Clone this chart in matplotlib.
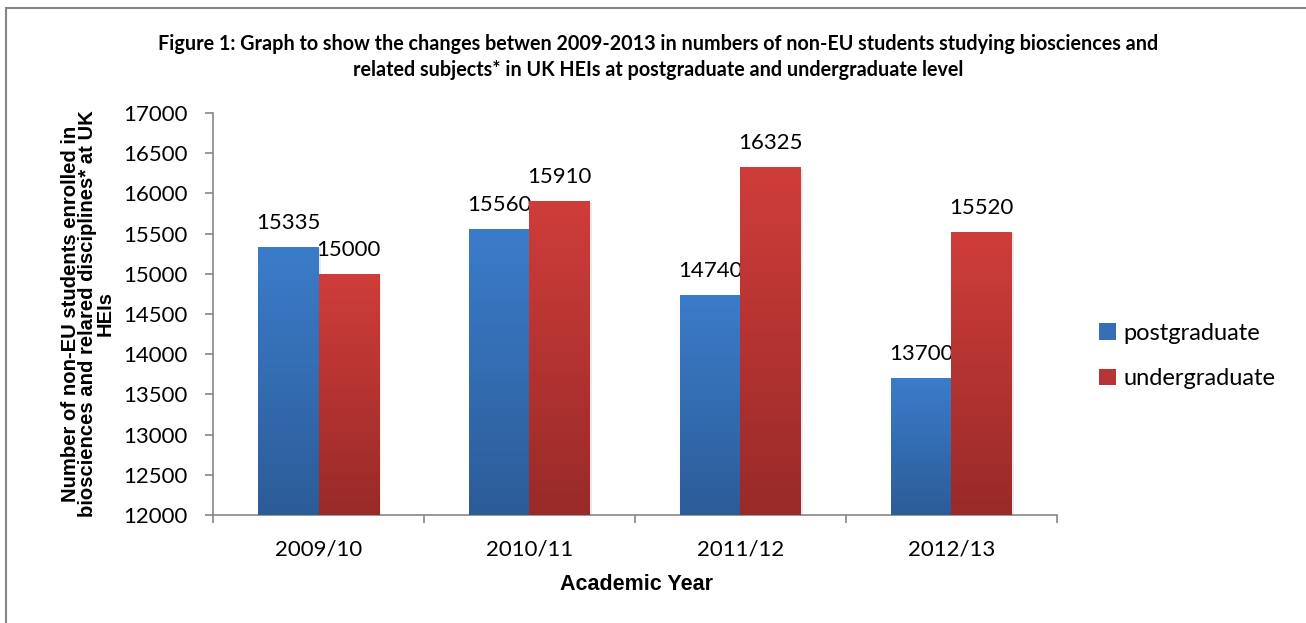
import numpy as np
import matplotlib.pyplot as plt
import matplotlib.patheffects as pe
from matplotlib.patches import Rectangle, Patch
from matplotlib.colors import LinearSegmentedColormap

# ---------------- Data ----------------
years = ["2009/10", "2010/11", "2011/12", "2012/13"]
postgraduate = [15335, 15560, 14740, 13700]
undergraduate = [15000, 15910, 16325, 15520]
series_names = ["postgraduate", "undergraduate"]
yticks = [12000, 12500, 13000, 13500, 14000, 14500, 15000, 15500, 16000, 16500, 17000]

title = ("Figure 1: Graph to show the changes betwen 2009-2013 in numbers of non-EU students studying biosciences and\n"
         "related subjects* in UK HEIs at postgraduate and undergraduate level")
ylabel = ("Number of non-EU students enrolled in\n"
          "biosciences and relared disciplines* at UK\n"
          "HEIs")

# ---------------- Style ----------------
body_font = ["Lato", "DejaVu Sans"]
axis_font = ["Liberation Sans", "DejaVu Sans"]
axis_grey = "#868686"
blue_grad = LinearSegmentedColormap.from_list("blue", ["#2c5c98", "#3b7cca"])
red_grad = LinearSegmentedColormap.from_list("red", ["#982a28", "#cf3d3a"])

fig = plt.figure(figsize=(13.06, 6.23), dpi=100)
ax = fig.add_axes([0.1631, 0.1734, 0.6462, 0.6452])

x = np.arange(len(years))
w = 0.285
ymin = yticks[0]

grad = np.linspace(0, 1, 256).reshape(-1, 1)
for vals, off, cmap in [(postgraduate, -w / 2, blue_grad), (undergraduate, w / 2, red_grad)]:
    bars = ax.bar(x + off, np.array(vals) - ymin, w, bottom=ymin, color=cmap(0.5), zorder=2)
    for b, v in zip(bars, vals):
        b.set_path_effects([pe.SimplePatchShadow(offset=(2, -1), shadow_rgbFace="#b0b0b0", alpha=0.25), pe.Normal()])
        x0 = b.get_x()
        im = ax.imshow(grad, cmap=cmap, origin="lower", aspect="auto",
                       extent=[x0, x0 + w, ymin, v], zorder=3)
        im.set_clip_path(b)
        ax.annotate(str(v), (x0 + w / 2, v), xytext=(0, 10), textcoords="offset points",
                    ha="center", va="bottom", fontsize=16, family=body_font)

ax.set_xlim(-0.5, len(years) - 0.5)
ax.set_ylim(yticks[0], yticks[-1])
ax.set_yticks(yticks)
ax.set_yticklabels([str(t) for t in yticks], fontsize=16, family=body_font)
ax.set_xticks(x)
ax.set_xticklabels(years, fontsize=16, family=body_font)
ax.set_xticks(np.arange(len(years) + 1) - 0.5, minor=True)

ax.tick_params(axis="y", length=6, width=1.2, color=axis_grey, pad=12)
ax.tick_params(axis="x", which="major", length=0, pad=18)
ax.tick_params(axis="x", which="minor", length=6, width=1.2, color=axis_grey)

for s in ["top", "right"]:
    ax.spines[s].set_visible(False)
for s in ["left", "bottom"]:
    ax.spines[s].set_color(axis_grey)
    ax.spines[s].set_linewidth(1.2)

# ---------------- Text ----------------
fig.text(658 / 1306, 1 - 57 / 623, title, ha="center", va="center", fontsize=14.2,
         fontweight="bold", family=body_font, linespacing=1.35)
fig.text(88 / 1306, 1 - 314 / 623, ylabel, rotation=90, ha="center", va="center",
         multialignment="center", fontsize=14.6, fontweight="bold", family=axis_font, linespacing=0.9)
fig.text(636 / 1306, 1 - 584 / 623, "Academic Year", ha="center", va="center",
         fontsize=15.5, fontweight="bold", family=axis_font)

handles = [Patch(facecolor=blue_grad(0.6)), Patch(facecolor=red_grad(0.6))]
fig.legend(handles, series_names, loc="center left", bbox_to_anchor=(1099 / 1306, 1 - 356 / 623),
           frameon=False, borderpad=0, borderaxespad=0, handlelength=0.7, handleheight=0.7,
           handletextpad=0.33, labelspacing=1.05, prop={"family": body_font, "size": 17})

# outer chart border
fig.patches.append(Rectangle((6 / 1306, -0.1), 1.2, 1.1 - 8 / 623, transform=fig.transFigure,
                             fill=False, edgecolor=axis_grey, linewidth=1.5))

fig.savefig("out.png", dpi=100)
